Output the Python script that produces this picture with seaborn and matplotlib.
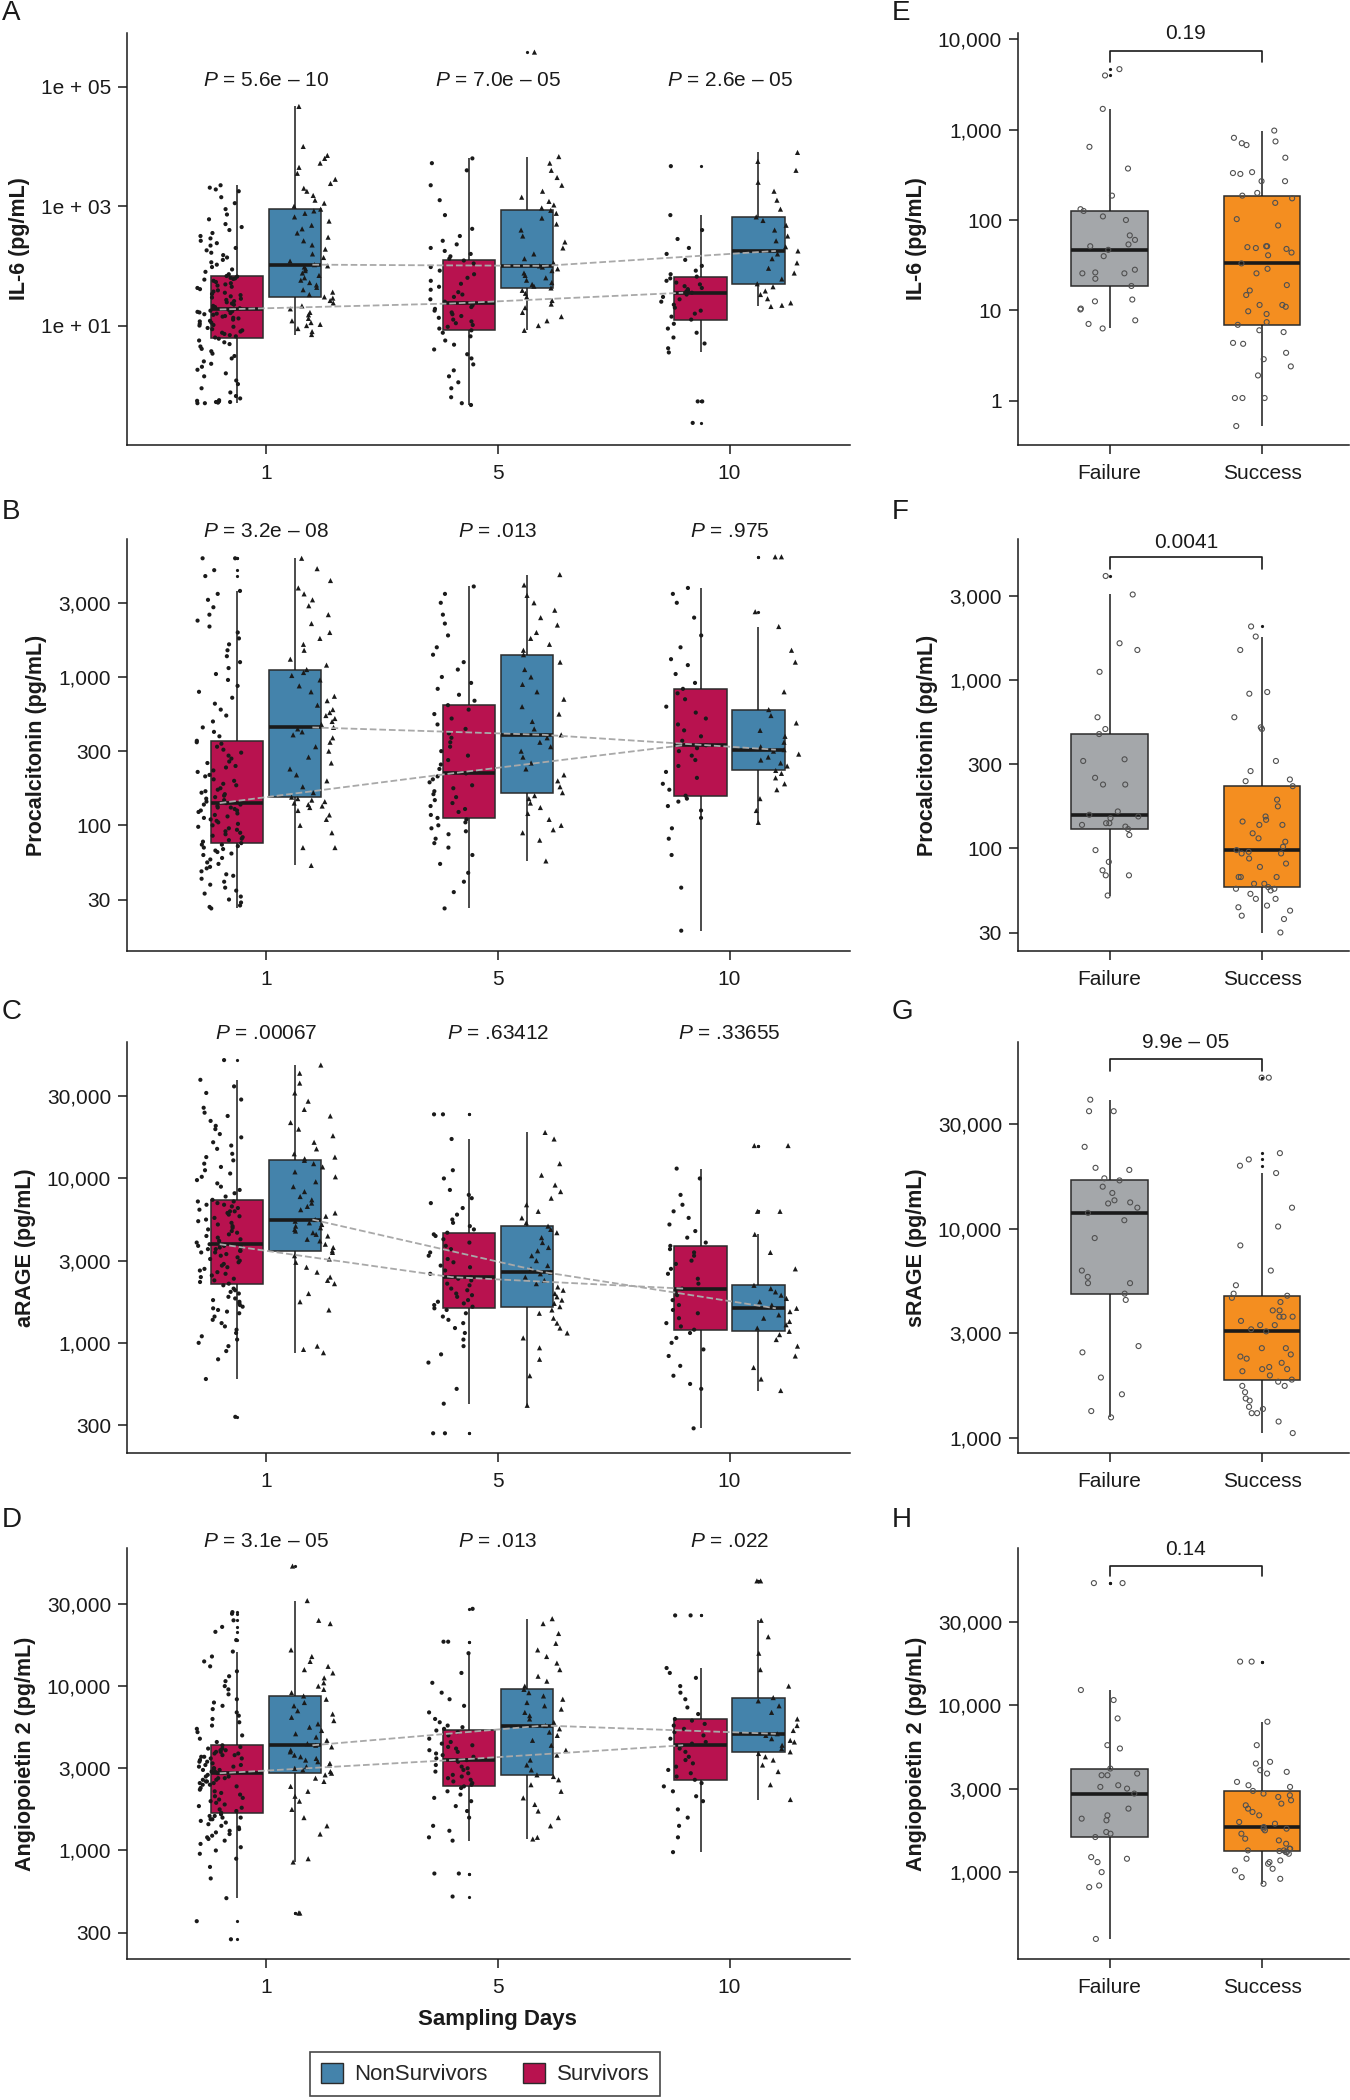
import numpy as np
import pandas as pd
import seaborn as sns
import matplotlib.pyplot as plt
from matplotlib.patches import Patch
from matplotlib.ticker import NullLocator

sns.set_theme(style="ticks")
plt.rcParams["font.family"] = ["Liberation Sans", "DejaVu Sans"]
plt.rcParams["mathtext.fontset"] = "custom"
plt.rcParams["mathtext.it"] = "Liberation Sans:italic"
plt.rcParams["mathtext.rm"] = "Liberation Sans"
plt.rcParams["mathtext.sf"] = "Liberation Sans"

np.random.seed(11)

days = ["1", "5", "10"]
groups = ["Survivors", "NonSurvivors"]
legend_order = ["NonSurvivors", "Survivors"]
outcomes = ["Failure", "Success"]

group_colors = {"Survivors": "#B8124F", "NonSurvivors": "#4483AB"}
outcome_colors = {"Failure": "#A4A7AA", "Success": "#F48E20"}

# ---------------- values, log10(pg/mL) ----------------
# Panel A: IL-6
il6_surv_d1 = [-0.30, -0.30, -0.29, -0.28, -0.28, -0.27, -0.26, -0.25, -0.22, -0.18, -0.12, -0.05, 0.02, 0.08, 0.15,
               0.20, 0.26, 0.31, 0.36, 0.40, 0.45, 0.49, 0.53, 0.57, 0.61, 0.65, 0.69, 0.72, 0.75, 0.78,
               0.80,
               0.82, 0.84, 0.86, 0.88, 0.90, 0.92, 0.94, 0.96, 0.98, 1.00, 1.01, 1.03, 1.05, 1.07, 1.08,
               1.10, 1.12, 1.13, 1.15, 1.16, 1.18, 1.19, 1.20, 1.21, 1.22, 1.23, 1.24, 1.25, 1.26,
               1.27,
               1.29, 1.31, 1.33, 1.35, 1.37, 1.39, 1.41, 1.43, 1.45, 1.47, 1.49, 1.51, 1.53, 1.55, 1.57,
               1.59, 1.61, 1.63, 1.65, 1.67, 1.69, 1.71, 1.73, 1.75, 1.77, 1.78, 1.79, 1.80, 1.82,
               1.83,
               1.86, 1.90, 1.94, 1.98, 2.02, 2.06, 2.10, 2.14, 2.18, 2.22, 2.26, 2.30, 2.34, 2.38, 2.42,
               2.46, 2.50, 2.55, 2.60, 2.65, 2.70, 2.78, 2.86, 2.95, 3.05, 3.15, 3.25, 3.28, 3.31, 3.35]
il6_non_d1 = [0.85, 0.90, 0.95, 1.00, 1.02, 1.05, 1.08, 1.12, 1.18, 1.22, 1.28, 1.33, 1.38, 1.42, 1.46,
              1.48,
              1.52, 1.56, 1.60, 1.64, 1.68, 1.72, 1.76, 1.80, 1.84, 1.88, 1.92, 1.95, 1.98, 2.00,
              2.02,
              2.08, 2.14, 2.20, 2.28, 2.35, 2.42, 2.48, 2.55, 2.62, 2.68, 2.75, 2.82, 2.88, 2.92,
              2.95,
              3.00, 3.05, 3.10, 3.18, 3.25, 3.30, 3.38, 3.45, 3.55, 3.65, 3.72, 3.80, 3.85, 4.00, 4.67]
il6_surv_d5 = [-0.33, -0.30, -0.20, -0.05, 0.05, 0.15, 0.25, 0.35, 0.45, 0.52, 0.60, 0.68, 0.75, 0.82, 0.88,
               0.92,
               0.95, 0.98, 1.01, 1.04, 1.07, 1.10, 1.13, 1.16, 1.19, 1.22, 1.25, 1.28, 1.31, 1.34,
               1.37,
               1.40, 1.44, 1.48, 1.52, 1.56, 1.60, 1.65, 1.70, 1.75, 1.80, 1.86, 1.92, 1.98, 2.04,
               2.09,
               2.12, 2.16, 2.20, 2.25, 2.30, 2.36, 2.42, 2.50, 2.62, 2.85, 3.10, 3.35, 3.60, 3.72, 3.80]
il6_non_d5 = [0.92, 1.00, 1.08, 1.15, 1.22, 1.30, 1.36, 1.42, 1.48, 1.54, 1.59,
              1.63,
              1.66, 1.69, 1.72, 1.76, 1.80, 1.84, 1.88, 1.92, 1.95, 1.98,
              2.00,
              2.05, 2.12, 2.20, 2.30, 2.40, 2.50, 2.60, 2.70, 2.80, 2.88,
              2.93,
              2.97, 3.02, 3.08, 3.15, 3.25, 3.35, 3.48, 3.60, 3.72, 3.83, 5.58]
il6_surv_d10 = [-0.63, -0.27, -0.27, 0.55, 0.62, 0.70, 0.80, 0.88, 0.95, 1.03,
                1.10,
                1.15, 1.20, 1.25, 1.30, 1.35, 1.40, 1.44, 1.48, 1.52,
                1.55,
                1.57, 1.59, 1.61, 1.63, 1.66, 1.69, 1.72, 1.75, 1.79,
                1.82,
                1.86, 1.92, 2.00, 2.10, 2.20, 2.30, 2.45, 2.60, 2.85, 3.67]
il6_non_d10 = [1.32, 1.34, 1.38, 1.45, 1.52, 1.58, 1.65,
               1.70,
               1.78, 1.88, 1.96, 2.05, 2.12, 2.20,
               2.25,
               2.32, 2.42, 2.50, 2.60, 2.68, 2.76,
               2.82,
               2.95, 3.10, 3.25, 3.40, 3.60, 3.75, 3.90]

# Panel B: Procalcitonin
pct_surv_d1 = [1.44, 1.45, 1.46, 1.48, 1.50, 1.52, 1.54, 1.56, 1.58, 1.60, 1.62, 1.64, 1.66, 1.67, 1.69,
               1.71, 1.72, 1.74, 1.75, 1.77, 1.78, 1.80, 1.81, 1.82, 1.83, 1.84, 1.85, 1.86, 1.87, 1.87,
               1.88,
               1.89, 1.90, 1.91, 1.92, 1.93, 1.94, 1.95, 1.96, 1.97, 1.98, 1.99, 2.00, 2.01, 2.02, 2.03,
               2.04, 2.05, 2.06, 2.07, 2.08, 2.09, 2.10, 2.10, 2.11, 2.12, 2.12, 2.13, 2.14, 2.14,
               2.15,
               2.16, 2.17, 2.18, 2.19, 2.20, 2.21, 2.22, 2.23, 2.24, 2.25, 2.27, 2.28, 2.30, 2.31, 2.33,
               2.34, 2.36, 2.37, 2.39, 2.40, 2.42, 2.43, 2.45, 2.47, 2.49, 2.51, 2.53, 2.55, 2.56,
               2.57,
               2.60, 2.63, 2.66, 2.70, 2.74, 2.78, 2.82, 2.86, 2.90, 2.94, 2.98, 3.02, 3.06, 3.10, 3.14,
               3.18, 3.22, 3.26, 3.30, 3.34, 3.38, 3.42, 3.47, 3.52, 3.56, 3.58, 3.68, 3.72, 3.80, 3.80]
pct_non_d1 = [1.73, 1.85, 1.85, 1.95, 2.00, 2.04, 2.07, 2.10, 2.12, 2.13, 2.14, 2.15, 2.16, 2.17, 2.18,
              2.19,
              2.22, 2.26, 2.30, 2.34, 2.38, 2.42, 2.46, 2.50, 2.53, 2.56, 2.59, 2.61, 2.63, 2.65,
              2.66,
              2.68, 2.70, 2.72, 2.74, 2.76, 2.78, 2.81, 2.84, 2.87, 2.90, 2.94, 2.98, 3.01, 3.03,
              3.05,
              3.08, 3.12, 3.18, 3.22, 3.26, 3.30, 3.36, 3.42, 3.48, 3.52, 3.56, 3.60, 3.65, 3.73, 3.80]
pct_surv_d5 = [1.44, 1.55, 1.62, 1.68, 1.74, 1.80, 1.85, 1.88, 1.91, 1.94, 1.96, 1.98, 2.00, 2.02, 2.04,
               2.05,
               2.07, 2.09, 2.11, 2.13, 2.15, 2.17, 2.19, 2.21, 2.23, 2.25, 2.27, 2.29, 2.31, 2.33,
               2.35,
               2.38, 2.41, 2.44, 2.47, 2.50, 2.53, 2.56, 2.59, 2.62, 2.65, 2.68, 2.72, 2.75, 2.78,
               2.81,
               2.84, 2.88, 2.92, 2.96, 3.00, 3.05, 3.10, 3.15, 3.20, 3.28, 3.36, 3.42, 3.50, 3.56, 3.61]
pct_non_d5 = [1.76, 1.90, 1.95, 1.97, 2.00, 2.04, 2.08, 2.12, 2.15, 2.18, 2.20,
              2.22,
              2.26, 2.30, 2.34, 2.38, 2.42, 2.46, 2.50, 2.53, 2.56, 2.59,
              2.61,
              2.65, 2.70, 2.75, 2.80, 2.85, 2.90, 2.95, 3.00, 3.05, 3.10,
              3.15,
              3.18, 3.22, 3.26, 3.30, 3.35, 3.40, 3.45, 3.50, 3.55, 3.62, 3.69]
pct_surv_d10 = [1.29, 1.58, 1.80, 1.91, 1.98, 2.05, 2.10, 2.13, 2.16, 2.18,
                2.20,
                2.24, 2.28, 2.32, 2.36, 2.40, 2.44, 2.47, 2.50, 2.52,
                2.54,
                2.57, 2.60, 2.64, 2.68, 2.72, 2.76, 2.80, 2.85, 2.89,
                2.92,
                2.96, 3.02, 3.08, 3.12, 3.20, 3.28, 3.40, 3.50, 3.56, 3.60]
pct_non_d10 = [2.02, 2.10, 2.18, 2.24, 2.28, 2.32, 2.35,
               2.37,
               2.40, 2.42, 2.44, 2.46, 2.48, 2.50,
               2.51,
               2.53, 2.56, 2.60, 2.64, 2.69, 2.74,
               2.78,
               2.90, 3.10, 3.18, 3.34, 3.44, 3.81, 3.81]

# Panel C: aRAGE
rage_surv_d1 = [2.55, 2.78, 2.90, 2.95, 2.98, 3.00, 3.02, 3.04, 3.06, 3.08, 3.10, 3.12, 3.14, 3.16, 3.18,
                3.19, 3.20, 3.21, 3.22, 3.23, 3.24, 3.25, 3.26, 3.27, 3.28, 3.30, 3.31, 3.32, 3.33, 3.35,
                3.36,
                3.37, 3.38, 3.39, 3.40, 3.41, 3.42, 3.43, 3.44, 3.45, 3.46, 3.47, 3.48, 3.49, 3.50, 3.51,
                3.52, 3.53, 3.54, 3.55, 3.55, 3.56, 3.56, 3.57, 3.57, 3.58, 3.58, 3.59, 3.59, 3.59,
                3.60,
                3.61, 3.62, 3.63, 3.64, 3.65, 3.66, 3.67, 3.68, 3.69, 3.70, 3.71, 3.72, 3.73, 3.74, 3.75,
                3.76, 3.77, 3.78, 3.79, 3.80, 3.80, 3.81, 3.82, 3.83, 3.84, 3.84, 3.85, 3.86, 3.86,
                3.87,
                3.89, 3.91, 3.93, 3.95, 3.97, 3.99, 4.01, 4.03, 4.05, 4.07, 4.09, 4.11, 4.13, 4.15, 4.18,
                4.20, 4.22, 4.25, 4.27, 4.30, 4.32, 4.35, 4.38, 4.40, 4.43, 4.48, 4.52, 4.56, 4.60, 4.72]
rage_non_d1 = [2.94, 2.96, 2.98, 3.20, 3.25, 3.30, 3.36, 3.38, 3.40, 3.43, 3.46, 3.49, 3.51, 3.53, 3.55,
               3.56,
               3.58, 3.60, 3.62, 3.63, 3.65, 3.66, 3.67, 3.68, 3.69, 3.70, 3.71, 3.72, 3.73, 3.74,
               3.75,
               3.77, 3.79, 3.81, 3.83, 3.85, 3.87, 3.89, 3.92, 3.95, 3.98, 4.01, 4.04, 4.07, 4.09,
               4.11,
               4.12, 4.13, 4.15, 4.18, 4.22, 4.26, 4.30, 4.34, 4.38, 4.42, 4.47, 4.52, 4.58, 4.64, 4.69]
rage_surv_d5 = [2.45, 2.45, 2.63, 2.72, 2.88, 2.93, 2.98, 3.02, 3.06, 3.09, 3.12, 3.14, 3.16, 3.18, 3.20,
                3.21,
                3.22, 3.23, 3.24, 3.25, 3.26, 3.28, 3.29, 3.30, 3.32, 3.33, 3.35, 3.36, 3.38, 3.39,
                3.40,
                3.42, 3.44, 3.46, 3.47, 3.49, 3.51, 3.53, 3.55, 3.57, 3.59, 3.61, 3.63, 3.65, 3.66,
                3.67,
                3.69, 3.71, 3.73, 3.75, 3.78, 3.82, 3.85, 3.88, 3.90, 3.93, 4.00, 4.05, 4.24, 4.39, 4.39]
rage_non_d5 = [2.62, 2.80, 2.90, 2.97, 3.03, 3.06, 3.09, 3.12, 3.15, 3.18, 3.20,
               3.22,
               3.24, 3.26, 3.28, 3.30, 3.32, 3.34, 3.36, 3.38, 3.40, 3.42,
               3.43,
               3.45, 3.47, 3.50, 3.53, 3.56, 3.58, 3.61, 3.64, 3.67, 3.69,
               3.71,
               3.73, 3.76, 3.80, 3.84, 3.88, 3.92, 3.96, 4.02, 4.09, 4.24, 4.28]
rage_surv_d10 = [2.48, 2.72, 2.75, 2.80, 2.86, 2.92, 2.96, 3.00, 3.03, 3.06,
                 3.08,
                 3.10, 3.12, 3.15, 3.18, 3.20, 3.23, 3.26, 3.29, 3.31,
                 3.33,
                 3.36, 3.39, 3.42, 3.45, 3.48, 3.50, 3.53, 3.55, 3.57,
                 3.59,
                 3.61, 3.64, 3.68, 3.72, 3.76, 3.80, 3.84, 3.90, 4.00, 4.06]
rage_non_d10 = [2.71, 2.78, 2.85, 2.92, 2.98, 3.02, 3.05,
                3.07,
                3.09, 3.11, 3.13, 3.15, 3.17, 3.19,
                3.21,
                3.23, 3.25, 3.27, 3.29, 3.31, 3.33,
                3.35,
                3.45, 3.55, 3.66, 3.80, 3.80, 4.20, 4.20]

# Panel D: Angiopoietin 2
ang_surv_d1 = [2.46, 2.57, 2.71, 2.83, 2.90, 2.95, 2.98, 3.00, 3.02, 3.04, 3.06, 3.07, 3.08, 3.09, 3.10,
               3.11, 3.12, 3.13, 3.14, 3.15, 3.16, 3.17, 3.18, 3.19, 3.19, 3.20, 3.20, 3.21, 3.21, 3.22,
               3.23,
               3.24, 3.25, 3.26, 3.27, 3.28, 3.29, 3.30, 3.31, 3.32, 3.33, 3.34, 3.35, 3.36, 3.37, 3.38,
               3.39, 3.40, 3.40, 3.41, 3.41, 3.42, 3.42, 3.43, 3.43, 3.44, 3.44, 3.45, 3.45, 3.46,
               3.47,
               3.48, 3.48, 3.49, 3.49, 3.50, 3.50, 3.51, 3.51, 3.52, 3.52, 3.53, 3.54, 3.54, 3.55, 3.56,
               3.56, 3.57, 3.57, 3.58, 3.58, 3.59, 3.59, 3.60, 3.60, 3.61, 3.61, 3.62, 3.62, 3.63,
               3.64,
               3.66, 3.68, 3.70, 3.72, 3.74, 3.76, 3.78, 3.80, 3.82, 3.84, 3.86, 3.88, 3.90, 3.92, 3.95,
               3.98, 4.00, 4.03, 4.06, 4.09, 4.12, 4.15, 4.18, 4.21, 4.28, 4.33, 4.36, 4.40, 4.44, 4.45]
ang_non_d1 = [2.62, 2.62, 2.93, 2.95, 3.10, 3.15, 3.20, 3.25, 3.30, 3.33, 3.36, 3.39, 3.42, 3.44, 3.46,
              3.47,
              3.48, 3.49, 3.50, 3.51, 3.52, 3.53, 3.54, 3.55, 3.56, 3.57, 3.58, 3.60, 3.61, 3.63,
              3.64,
              3.65, 3.67, 3.69, 3.71, 3.73, 3.75, 3.77, 3.79, 3.81, 3.83, 3.85, 3.88, 3.90, 3.92,
              3.94,
              3.96, 3.98, 4.00, 4.02, 4.05, 4.08, 4.10, 4.12, 4.15, 4.18, 4.22, 4.38, 4.40, 4.52, 4.73]
ang_surv_d5 = [2.72, 2.86, 2.86, 3.06, 3.08, 3.12, 3.15, 3.20, 3.24, 3.27, 3.30, 3.32, 3.34, 3.36, 3.38,
               3.39,
               3.40, 3.41, 3.42, 3.43, 3.44, 3.45, 3.46, 3.47, 3.48, 3.49, 3.50, 3.51, 3.52, 3.54,
               3.55,
               3.56, 3.57, 3.58, 3.59, 3.60, 3.61, 3.62, 3.63, 3.64, 3.65, 3.66, 3.68, 3.70, 3.72,
               3.73,
               3.74, 3.75, 3.76, 3.78, 3.80, 3.84, 3.88, 3.92, 3.96, 4.02, 4.08, 4.20, 4.27, 4.27, 4.47]
ang_non_d5 = [3.07, 3.08, 3.15, 3.20, 3.24, 3.28, 3.32, 3.36, 3.40, 3.43, 3.45,
              3.46,
              3.49, 3.52, 3.55, 3.58, 3.61, 3.64, 3.67, 3.70, 3.72, 3.74,
              3.76,
              3.78, 3.80, 3.82, 3.84, 3.86, 3.88, 3.90, 3.92, 3.94, 3.96,
              3.98,
              4.00, 4.03, 4.06, 4.10, 4.14, 4.18, 4.22, 4.26, 4.32, 4.38, 4.41]
ang_surv_d10 = [2.99, 3.08, 3.15, 3.20, 3.25, 3.30, 3.33, 3.36, 3.39, 3.41,
                3.43,
                3.45, 3.47, 3.49, 3.51, 3.53, 3.55, 3.57, 3.60, 3.62,
                3.64,
                3.65, 3.66, 3.68, 3.70, 3.72, 3.74, 3.76, 3.77, 3.79,
                3.80,
                3.83, 3.87, 3.92, 3.96, 4.00, 4.05, 4.08, 4.11, 4.43, 4.43]
ang_non_d10 = [3.31, 3.40, 3.48, 3.52, 3.55, 3.57, 3.59,
               3.60,
               3.62, 3.64, 3.66, 3.67, 3.68, 3.70,
               3.71,
               3.73, 3.76, 3.80, 3.84, 3.88, 3.91,
               3.93,
               4.00, 4.10, 4.20, 4.30, 4.40, 4.64, 4.64]

# Panels E-H: Failure / Success
e_fail = [0.80, 0.85, 0.89, 1.01, 1.02, 1.10, 1.12, 1.27, 1.35, 1.41, 1.41, 1.42, 1.45, 1.60, 1.67,
          1.71, 1.73, 1.78, 1.83, 2.00, 2.04, 2.10, 2.12, 2.27, 2.57, 2.81, 3.23, 3.60, 3.67]
e_succ = [-0.28, 0.03, 0.03, 0.03, 0.28, 0.38, 0.46, 0.53, 0.63, 0.64, 0.76, 0.78,
          0.84,
          0.87, 0.96, 0.99, 1.04, 1.06, 1.06, 1.17, 1.22, 1.28, 1.41, 1.46,
          1.52,
          1.61, 1.64, 1.68, 1.69, 1.70, 1.71, 1.71, 1.94, 2.01, 2.19, 2.24,
          2.27,
          2.30, 2.43, 2.43, 2.51, 2.52, 2.53, 2.69, 2.83, 2.85, 2.87, 2.91, 2.99]
f_fail = [1.72, 1.84, 1.84, 1.87, 1.92, 1.99, 2.08, 2.115, 2.13, 2.14, 2.15, 2.15, 2.18, 2.19, 2.20,
          2.22, 2.38, 2.38, 2.42, 2.52, 2.53, 2.68, 2.71, 2.78, 3.05, 3.18, 3.22, 3.51, 3.62]
f_succ = [1.50, 1.58, 1.60, 1.63, 1.65, 1.66, 1.70, 1.70, 1.73, 1.75, 1.76, 1.76,
          1.77,
          1.79, 1.79, 1.83, 1.83, 1.83, 1.89, 1.91, 1.94, 1.97, 1.97, 1.98,
          1.99,
          2.01, 2.04, 2.06, 2.09, 2.14, 2.14, 2.16, 2.17, 2.19, 2.25, 2.29,
          2.37,
          2.40, 2.41, 2.46, 2.52, 2.71, 2.72, 2.78, 2.92, 2.93, 3.18, 3.26, 3.32]
g_fail = [3.10, 3.13, 3.21, 3.29, 3.41, 3.44, 3.66, 3.69, 3.74, 3.74, 3.77, 3.80, 3.955, 4.04, 4.075,
          4.10, 4.12, 4.125, 4.135, 4.17, 4.20, 4.23, 4.24, 4.28, 4.29, 4.39, 4.56, 4.56, 4.615]
g_succ = [3.025, 3.08, 3.12, 3.12, 3.14, 3.15, 3.18, 3.19, 3.22, 3.25, 3.25, 3.27,
          3.28,
          3.30, 3.32, 3.33, 3.33, 3.34, 3.36, 3.38, 3.39, 3.40, 3.43, 3.43,
          3.51,
          3.52, 3.54, 3.54, 3.56, 3.58, 3.58, 3.58, 3.61, 3.61, 3.65, 3.67,
          3.68,
          3.69, 3.73, 3.80, 3.92, 4.01, 4.10, 4.265, 4.30, 4.33, 4.36, 4.72, 4.72]
h_fail = [2.60, 2.91, 2.92, 3.00, 3.06, 3.08, 3.09, 3.21, 3.23, 3.24, 3.31, 3.32, 3.34, 3.38, 3.47,
          3.50, 3.51, 3.52, 3.58, 3.58, 3.59, 3.62, 3.74, 3.76, 3.92, 4.03, 4.09, 4.73, 4.73]
h_succ = [2.93, 2.96, 2.97, 3.01, 3.02, 3.05, 3.06, 3.07, 3.08, 3.11, 3.12, 3.12,
          3.126,
          3.13, 3.13, 3.14, 3.14, 3.17, 3.19, 3.20, 3.23, 3.25, 3.26, 3.26,
          3.27,
          3.29, 3.30, 3.34, 3.36, 3.38, 3.40, 3.41, 3.43, 3.45, 3.46, 3.47,
          3.486,
          3.51, 3.52, 3.54, 3.59, 3.60, 3.61, 3.65, 3.66, 3.76, 3.90, 4.26, 4.26]

# P-value labels
p_left = {
    "A": ["5.6e \u2013 10", "7.0e \u2013 05", "2.6e \u2013 05"],
    "B": ["3.2e \u2013 08", ".013", ".975"],
    "C": [".00067", ".63412", ".33655"],
    "D": ["3.1e \u2013 05", ".013", ".022"],
}
p_right = {"E": "0.19", "F": "0.0041", "G": "9.9e \u2013 05", "H": "0.14"}

# ---------------- panel configuration ----------------
half_dec_lo = [10 ** 1.5, 1e2, 10 ** 2.5, 1e3, 10 ** 3.5]
half_dec_hi = [10 ** 2.5, 1e3, 10 ** 3.5, 1e4, 10 ** 4.5]
lab_lo = ["30", "100", "300", "1,000", "3,000"]
lab_hi = ["300", "1,000", "3,000", "10,000", "30,000"]

left_panels = [
    dict(letter="A", ylabel="IL-6 (pg/mL)",
         surv=[il6_surv_d1, il6_surv_d5, il6_surv_d10], non=[il6_non_d1, il6_non_d5, il6_non_d10],
         ticks=[1e1, 1e3, 1e5], labels=["1e + 01", "1e + 03", "1e + 05"], ylim=(-1.0, 5.9), p_y=5.11),
    dict(letter="B", ylabel="Procalcitonin (pg/mL)",
         surv=[pct_surv_d1, pct_surv_d5, pct_surv_d10], non=[pct_non_d1, pct_non_d5, pct_non_d10],
         ticks=half_dec_lo, labels=lab_lo, ylim=(1.153, 3.93), p_y=3.98),
    dict(letter="C", ylabel="aRAGE (pg/mL)",
         surv=[rage_surv_d1, rage_surv_d5, rage_surv_d10], non=[rage_non_d1, rage_non_d5, rage_non_d10],
         ticks=half_dec_hi, labels=lab_hi, ylim=(2.33, 4.83), p_y=4.88),
    dict(letter="D", ylabel="Angiopoietin 2 (pg/mL)",
         surv=[ang_surv_d1, ang_surv_d5, ang_surv_d10], non=[ang_non_d1, ang_non_d5, ang_non_d10],
         ticks=half_dec_hi, labels=lab_hi, ylim=(2.34, 4.84), p_y=4.88),
]
right_panels = [
    dict(letter="E", ylabel="IL-6 (pg/mL)", fail=e_fail, succ=e_succ,
         ticks=[1, 10, 100, 1e3, 1e4], labels=["1", "10", "100", "1,000", "10,000"],
         ylim=(-0.49, 4.07), bracket=(3.75, 3.87, 4.06)),
    dict(letter="F", ylabel="Procalcitonin (pg/mL)", fail=f_fail, succ=f_succ,
         ticks=half_dec_lo, labels=lab_lo, ylim=(1.39, 3.84), bracket=(3.66, 3.73, 3.82)),
    dict(letter="G", ylabel="sRAGE (pg/mL)", fail=g_fail, succ=g_succ,
         ticks=[1e3, 10 ** 3.5, 1e4, 10 ** 4.5], labels=["1,000", "3,000", "10,000", "30,000"],
         ylim=(2.93, 4.89), bracket=(4.75, 4.81, 4.886)),
    dict(letter="H", ylabel="Angiopoietin 2 (pg/mL)", fail=h_fail, succ=h_succ,
         ticks=[1e3, 10 ** 3.5, 1e4, 10 ** 4.5], labels=["1,000", "3,000", "10,000", "30,000"],
         ylim=(2.48, 4.94), bracket=(4.77, 4.83, 4.93)),
]

# ---------------- figure ----------------
fig = plt.figure(figsize=(13.5, 21), dpi=100)
W, H = 1350.0, 2100.0
rows_px = [(33, 445), (539, 951), (1042, 1453), (1548, 1959)]
left_x = (127, 850)
right_x = (1018, 1350)
letter_y = [13, 512, 1012, 1520]

ink = "#1a1a1a"
box_kws = dict(saturation=1, linecolor="#2b2b2b", linewidth=1.1, showcaps=False,
               medianprops=dict(color=ink, linewidth=2.6),
               whiskerprops=dict(color=ink, linewidth=1.1),
               flierprops=dict(marker="o", markersize=2.3, markerfacecolor=ink,
                               markeredgecolor=ink, markeredgewidth=0),
               legend=False)


def style_axis(ax, cfg):
    sns.despine(ax=ax)
    for s in ["left", "bottom"]:
        ax.spines[s].set_linewidth(1.1)
        ax.spines[s].set_color(ink)
    ax.set_yticks(cfg["ticks"])
    ax.set_yticklabels(cfg["labels"])
    ax.yaxis.set_minor_locator(NullLocator())
    ax.set_ylim(10 ** cfg["ylim"][0], 10 ** cfg["ylim"][1])
    ax.tick_params(axis="both", direction="out", length=6.5, width=1.1, color=ink,
                   labelsize=15, labelcolor=ink)
    ax.tick_params(axis="y", pad=5)
    ax.tick_params(axis="x", pad=7)
    ax.set_ylabel(cfg["ylabel"], fontsize=15.5, fontweight="bold", color=ink, labelpad=8)
    ax.set_xlabel("")


for i, cfg in enumerate(left_panels):
    top, bot = rows_px[i]
    ax = fig.add_axes([left_x[0] / W, 1 - bot / H, (left_x[1] - left_x[0]) / W, (bot - top) / H])
    recs = []
    for day, s_vals, n_vals in zip(days, cfg["surv"], cfg["non"]):
        recs += [(day, "Survivors", 10 ** v) for v in s_vals]
        recs += [(day, "NonSurvivors", 10 ** v) for v in n_vals]
    df = pd.DataFrame(recs, columns=["day", "group", "value"])

    sns.boxplot(data=df, x="day", y="value", hue="group", order=days, hue_order=groups,
                palette=group_colors, width=0.5, gap=0.1, dodge=True, log_scale=True, ax=ax, **box_kws)
    for grp, mk, sz in [("Survivors", "o", 3.0), ("NonSurvivors", "^", 3.7)]:
        sns.stripplot(data=df[df["group"] == grp], x="day", y="value", hue="group", order=days,
                      hue_order=groups, palette={g: ink for g in groups}, dodge=True, jitter=0.2,
                      marker=mk, size=sz, linewidth=0, legend=False, ax=ax, zorder=3)
    sns.pointplot(data=df, x="day", y="value", hue="group", order=days, hue_order=groups,
                  estimator="median", errorbar=None, dodge=0.4, markers="", linestyles="--",
                  palette={g: "#a9a9a9" for g in groups}, linewidth=1.3, legend=False, ax=ax, zorder=4)

    style_axis(ax, cfg)
    ax.set_xlim(-0.6, 2.52)
    for j, p in enumerate(p_left[cfg["letter"]]):
        ax.text(j, 10 ** cfg["p_y"], r"$\mathit{P}$" + " = " + p, ha="center", va="center",
                fontsize=15, color=ink)
    if cfg["letter"] == "D":
        ax.set_xlabel("Sampling Days", fontsize=16, fontweight="bold", color=ink)
        ax.xaxis.set_label_coords(0.513, -0.122)
        ax.xaxis.label.set_va("top")
    fig.text(2 / W, 1 - letter_y[i] / H, cfg["letter"], fontsize=20, ha="left", va="center", color=ink)

for i, cfg in enumerate(right_panels):
    top, bot = rows_px[i]
    ax = fig.add_axes([right_x[0] / W, 1 - bot / H, (right_x[1] - right_x[0]) / W - 0.0005, (bot - top) / H])
    recs = [("Failure", 10 ** v) for v in cfg["fail"]] + [("Success", 10 ** v) for v in cfg["succ"]]
    df = pd.DataFrame(recs, columns=["outcome", "value"])
    sns.boxplot(data=df, x="outcome", y="value", hue="outcome", order=outcomes, hue_order=outcomes,
                palette=outcome_colors, width=0.5, log_scale=True, ax=ax, **box_kws)
    sns.stripplot(data=df, x="outcome", y="value", order=outcomes, jitter=0.2, size=3.6,
                  color="#505050", facecolors="none", edgecolor="#505050", linewidth=0.8,
                  ax=ax, zorder=3)
    style_axis(ax, cfg)
    ax.set_xlim(-0.6, 1.57)
    drop, line, txt = cfg["bracket"]
    ax.plot([0, 0, 1, 1], [10 ** drop, 10 ** line, 10 ** line, 10 ** drop], color=ink, lw=1.2,
            clip_on=False)
    ax.text(0.5, 10 ** txt, p_right[cfg["letter"]], ha="center", va="center", fontsize=15, color=ink)
    fig.text(892 / W, 1 - letter_y[i] / H, cfg["letter"], fontsize=20, ha="left", va="center", color=ink)

handles = [Patch(facecolor=group_colors[g], edgecolor="#2b2b2b", linewidth=1.0, label=g) for g in legend_order]
leg = fig.legend(handles=handles, loc="center", bbox_to_anchor=(485 / W, 1 - 2074 / H), ncol=2,
                 frameon=True, fancybox=False, edgecolor=ink, fontsize=16, handlelength=1.0,
                 handleheight=1.0, handletextpad=0.5, columnspacing=1.6, borderpad=0.5)
leg.get_frame().set_linewidth(1.2)

fig.savefig("out.png", dpi=100)
